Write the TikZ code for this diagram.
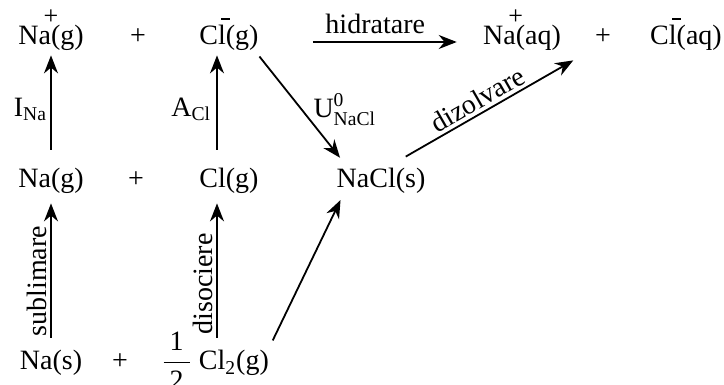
\documentclass[tikz,border=0pt]{standalone}
\usepackage{amsmath}
\usepackage{fontspec}
\setmainfont{Liberation Serif}
\usetikzlibrary{arrows.meta}
% charge signs set over the end of the symbol
\newcommand{\ionp}{\makebox[0pt]{\raisebox{10pt}{\fontsize{13}{13}\selectfont +}}}
\newcommand{\ionm}{\makebox[0pt]{\rule[12.5pt]{4.5pt}{1pt}}}

\begin{document}
\begin{tikzpicture}[x=0.5pt,y=-0.5pt,
  % ── species ──────────────────────────────────────────────
  species/.style={anchor=base, font=\fontsize{14}{17}\selectfont,
                  text height=10pt, text depth=3pt, inner sep=1pt},
  % ── step label ───────────────────────────────────────────
  lbl/.style={font=\fontsize{14}{17}\selectfont, inner sep=1.5pt},
  % ── arrows ───────────────────────────────────────────────
  arr/.style={-{Stealth[length=9pt,width=7pt]}, line width=0.9pt},
  upper/.style={shorten <=8pt, shorten >=1pt},
  lower/.style={shorten <=5pt, shorten >=3.5pt}
]
\useasboundingbox (0,0) rectangle (724,385);

%% ── gaseous ions / hydrated ions ──
\node[species] (na1)   at (51,45)  {Na\ionp(g)};
\node[species] (plus1) at (138,45) {+};
\node[species] (cl1)   at (229,45) {Cl\ionm(g)};
\node[species] (naaq)  at (522,45) {Na\ionp(aq)};
\node[species] (plus4) at (603,45) {+};
\node[species] (claq)  at (686,45) {Cl\ionm(aq)};

%% ── gaseous atoms / crystal ──
\node[species] (na2)   at (51,188)  {Na(g)};
\node[species] (plus2) at (136,188) {+};
\node[species] (cl2)   at (229,188) {Cl(g)};
\node[species] (nacl)  at (381,188) {NaCl(s)};

%% ── elements ──
\node[species] (na3)   at (51,370)  {Na(s)};
\node[species] (plus3) at (120,370) {+};
\node[species] (half)  at (215,370)
  {$\dfrac{\hspace{3pt}\text{1}\hspace{3pt}}{\text{2}}$ Cl\textsubscript{2}(g)};

%% ── Edges: elements → atoms ──
\draw[arr,lower] (na3) -- node[lbl,pos=0.44,above,sloped]{sublimare} (na2);
\draw[arr,lower] ([xshift=1pt]half.north) -- node[lbl,pos=0.42,above,sloped]{disociere} ([xshift=-6pt]cl2.south);

%% ── Edges: atoms → ions ──
\draw[arr,upper] (na2) -- node[lbl,midway,left]{$\text{I}_{\text{Na}}$} (na1);
\draw[arr,upper] ([xshift=-6pt]cl2.north) -- node[lbl,midway,left=1pt]{$\text{A}_{\text{Cl}}$} ([xshift=-6pt]cl1.south);

%% ── Edges: towards the crystal ──
\draw[arr,shorten <=2pt,shorten >=5pt] ([xshift=-2pt]cl1.south east) --
  node[lbl,midway,right=4pt]{$\text{U}^{\text{0}}_{\text{NaCl}}$} ([xshift=6pt]nacl.north west);
\draw[arr,shorten <=4pt,shorten >=2pt] ([xshift=-1pt]half.north east) -- ([xshift=4pt]nacl.south west);

%% ── Edges: hydration and dissolution ──
\draw[arr,shorten <=26pt,shorten >=12pt] ([yshift=-2pt]cl1.east) --
  node[lbl,pos=0.52,above=2pt]{hidratare} ([yshift=-2pt]naaq.west);
\draw[arr] ([shift={(-11pt,4.5pt)}]nacl.north east) --
  node[lbl,pos=0.47,above,sloped]{dizolvare} ([shift={(5pt,-3.5pt)}]naaq.south east);

\end{tikzpicture}
\end{document}
